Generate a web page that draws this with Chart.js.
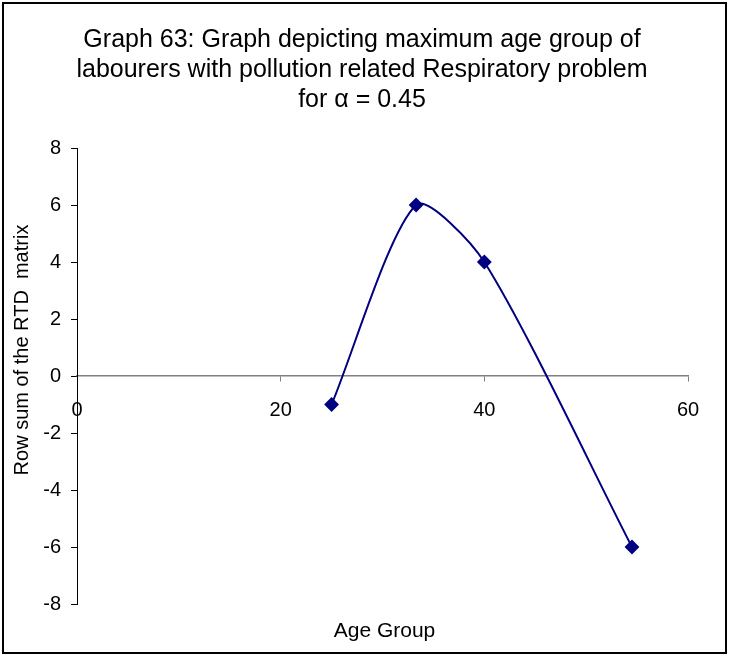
<!DOCTYPE html>
<html>
<head>
<meta charset="utf-8">
<script src="https://cdn.jsdelivr.net/npm/chart.js@4"></script>
<style>
    body { margin: 0; background: #fff; }
    #wrap { width: 729px; height: 656px; position: relative; }
</style>
</head>
<body>
<div id="wrap"><canvas id="chart"></canvas></div>
<script>
// Data
const ageGroups = [25, 33.3, 40, 54.5];
const rowSums = [-1, 6, 4, -6];
const yTicks = [-8, -6, -4, -2, 0, 2, 4, 6, 8];
const xTicks = [0, 20, 40, 60];

const titleLines = [
    'Graph 63: Graph depicting maximum age group of',
    'labourers with pollution related Respiratory problem',
    'for \u03b1 = 0.45'
];
const xTitle = 'Age Group';
const yTitle = 'Row sum of the RTD  matrix';

const FONT = '"Liberation Sans", Arial, sans-serif';

// frame + axis titles
const extras = {
    id: 'extras',
    afterDraw(chart) {
        const ctx = chart.ctx;
        const area = chart.chartArea;
        ctx.save();
        ctx.strokeStyle = '#000';
        ctx.lineWidth = 2;
        ctx.strokeRect(3, 3, chart.width - 6, chart.height - 6);

        ctx.fillStyle = '#000';
        ctx.font = '21px ' + FONT;
        ctx.textAlign = 'center';
        ctx.textBaseline = 'middle';
        ctx.fillText(xTitle, (area.left + area.right) / 2 + 2, 631);

        ctx.font = '20px ' + FONT;
        ctx.translate(22, 350);
        ctx.rotate(-Math.PI / 2);
        ctx.fillText(yTitle, 0, 0);
        ctx.restore();
    }
};

new Chart(document.getElementById('chart'), {
    type: 'scatter',
    data: {
        datasets: [{
            data: ageGroups.map((x, i) => ({ x: x, y: rowSums[i] })),
            showLine: true,
            borderColor: '#000080',
            backgroundColor: '#000080',
            borderWidth: 2,
            tension: 0.25,
            pointStyle: 'rectRot',
            pointRadius: 6,
            pointHoverRadius: 6
        }]
    },
    options: {
        responsive: true,
        maintainAspectRatio: false,
        animation: false,
        layout: { padding: { left: 36, right: 41, top: 0, bottom: 52 } },
        plugins: {
            legend: { display: false },
            tooltip: { enabled: false },
            title: {
                display: true,
                text: titleLines,
                color: '#000',
                font: { family: FONT, size: 25, weight: 'normal', lineHeight: 1.2 },
                padding: { top: 25, bottom: 33 }
            }
        },
        scales: {
            x: {
                type: 'linear',
                position: { y: 0 },
                min: 0,
                max: 60,
                afterBuildTicks: (scale) => { scale.ticks = xTicks.map(v => ({ value: v })); },
                grid: { drawOnChartArea: false, drawTicks: true, tickLength: 5, color: '#808080' },
                border: { color: '#808080', width: 1.5 },
                ticks: { color: '#000', font: { family: FONT, size: 20 }, padding: 17, maxRotation: 0 }
            },
            y: {
                type: 'linear',
                min: -8,
                max: 8,
                afterBuildTicks: (scale) => { scale.ticks = yTicks.map(v => ({ value: v })); },
                afterFit: (scale) => { scale.width = 41; },
                grid: { drawOnChartArea: false, drawTicks: true, tickLength: 6, color: '#000' },
                border: { color: '#000', width: 1 },
                ticks: { color: '#000', font: { family: FONT, size: 20 }, padding: 10 }
            }
        }
    },
    plugins: [extras]
});
</script>
</body>
</html>
